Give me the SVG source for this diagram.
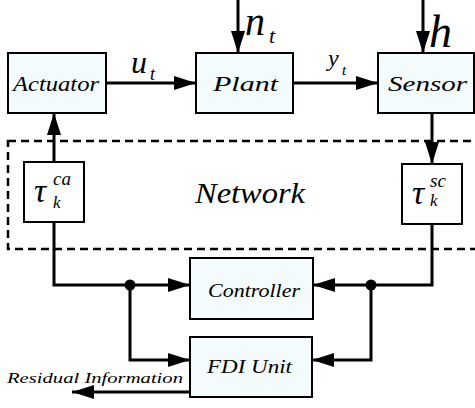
<svg xmlns="http://www.w3.org/2000/svg" width="475" height="408" viewBox="0 0 475 408">
<style>
.box{fill:#f3fbfd;stroke:#000;stroke-width:2}
.tbox{fill:#fff;stroke:#000;stroke-width:2}
.arr{fill:none;stroke:#000;stroke-width:3;marker-end:url(#ah)}
</style>
<defs>
<marker id="ah" markerUnits="userSpaceOnUse" markerWidth="23" markerHeight="14" refX="22" refY="7" orient="auto">
<path d="M0,0 L22,7 L0,14 z" fill="#000"/>
</marker>
</defs>
<rect x="8" y="141" width="480" height="108" fill="none" stroke="#000" stroke-width="2.5" stroke-dasharray="8,5"/>
<text font-family="Liberation Serif, serif" font-style="italic" x="195" y="203" font-size="30" textLength="110" lengthAdjust="spacingAndGlyphs">Network</text>
<g id="connectors">
<line class="arr" x1="106" y1="83" x2="196" y2="83"/>
<line class="arr" x1="293" y1="83" x2="378" y2="83"/>
<line class="arr" x1="238" y1="0" x2="238" y2="53"/>
<line class="arr" x1="423" y1="0" x2="423" y2="53"/>
<line class="arr" x1="432" y1="113" x2="432" y2="164"/>
<line class="arr" x1="54" y1="162" x2="54" y2="113"/>
<polyline class="arr" points="54,222 54,285 190,285"/>
<polyline class="arr" points="130,285 130,360 190,360"/>
<polyline class="arr" points="432,224 432,285 313,285"/>
<polyline class="arr" points="371,285 371,360 312,360"/>
<line class="arr" x1="190" y1="392" x2="72" y2="392"/>
<circle cx="130" cy="285" r="5.5" fill="#000"/>
<circle cx="371" cy="285" r="5.5" fill="#000"/>
<g font-family="Liberation Serif, serif" font-style="italic" fill="#000">
<text x="131" y="73" font-size="32">u</text>
<text x="150" y="80" font-size="18">t</text>
<text x="328" y="66" font-size="24">y</text>
<text x="342" y="75" font-size="15">t</text>
<text x="245" y="35" font-size="40">n</text>
<text x="269" y="43" font-size="22">t</text>
<text x="429" y="47" font-size="46">h</text>
<text x="7" y="383" font-size="15" textLength="176" lengthAdjust="spacingAndGlyphs">Residual Information</text>
</g>
</g>
<g id="actuator">
<rect class="box" x="8" y="53" width="98" height="60"/>
<text font-family="Liberation Serif, serif" font-style="italic" x="13" y="91" font-size="20" textLength="86" lengthAdjust="spacingAndGlyphs">Actuator</text>
</g>
<g id="plant">
<rect class="box" x="196" y="53" width="97" height="60"/>
<text font-family="Liberation Serif, serif" font-style="italic" x="213" y="91" font-size="21" textLength="65" lengthAdjust="spacingAndGlyphs">Plant</text>
</g>
<g id="sensor">
<rect class="box" x="378" y="53" width="96" height="60"/>
<text font-family="Liberation Serif, serif" font-style="italic" x="388" y="91" font-size="21" textLength="79" lengthAdjust="spacingAndGlyphs">Sensor</text>
</g>
<g id="tau-ca" font-family="Liberation Serif, serif" font-style="italic">
<rect class="tbox" x="24" y="162" width="60" height="60"/>
<text x="34" y="202" font-size="34">τ</text>
<text x="53" y="185" font-size="19">ca</text>
<text x="53" y="208" font-size="17">k</text>
</g>
<g id="tau-sc" font-family="Liberation Serif, serif" font-style="italic">
<rect class="tbox" x="402" y="164" width="60" height="60"/>
<text x="412" y="204" font-size="34">τ</text>
<text x="430" y="187" font-size="19">sc</text>
<text x="430" y="206" font-size="17">k</text>
</g>
<g id="controller">
<rect class="box" x="190" y="258" width="123" height="61"/>
<text font-family="Liberation Serif, serif" font-style="italic" x="208" y="297" font-size="18" textLength="92" lengthAdjust="spacingAndGlyphs">Controller</text>
</g>
<g id="fdi">
<rect class="box" x="190" y="337" width="122" height="60"/>
<text font-family="Liberation Serif, serif" font-style="italic" x="207" y="373" font-size="19" textLength="85" lengthAdjust="spacingAndGlyphs">FDI Unit</text>
</g>
</svg>
